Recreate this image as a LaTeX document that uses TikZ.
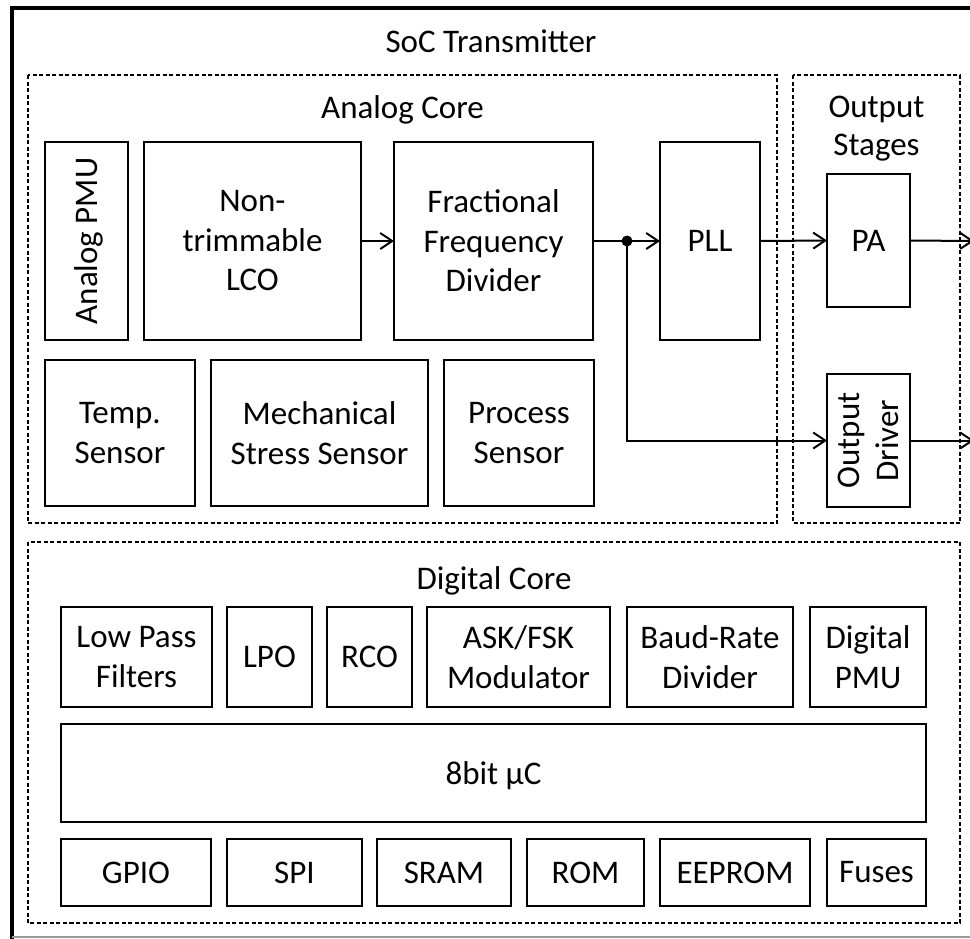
\documentclass[tikz,border=0pt]{standalone}
\usepackage{fontspec}
\setmainfont{Carlito}
\usetikzlibrary{arrows.meta}

% \blkbox{name}{x1}{y1}{x2}{y2}{text}: a solid block spanning the given corners
\newcommand{\blkbox}[6]{%
  \node[blk, minimum width={(#4-#2)*1pt}, minimum height={(#5-#3)*1pt}]
    (#1) at ({(#2+#4)/2},{(#3+#5)/2}) {#6};}

\begin{document}
\begin{tikzpicture}[x=1pt,y=-1pt,
  txt/.style={font=\fontsize{33}{39.5}\selectfont},
  blk/.style={txt, draw, line width=2pt, inner sep=0pt, outer sep=0pt, align=center},
  grp/.style={draw, line width=2pt, dash pattern=on 4pt off 2.5pt},
  ttl/.style={txt, anchor=base, inner sep=0pt},
  arr/.style={line width=2pt, -{Straight Barb[length=12pt,width=16pt]}},
  dot/.style={circle, fill, inner sep=0pt, minimum size=11pt}]

\useasboundingbox (0,0) rectangle (970,938);

% outer frame of the chip
\draw[line width=4pt] (12,940) -- (12,8) -- (980,8);
\draw[black!40, line width=1.5pt] (12,937) -- (970,937);
\node[ttl] (soc) at (491,52) {SoC Transmitter};

% group outlines
\draw[grp] (28,75) rectangle (777,523);
\draw[grp] (793,75) rectangle (960,523);
\draw[grp] (28,542) rectangle (960,923);
\node[ttl] (analogttl) at (402.5,118) {Analog Core};
\node[ttl] (outttlA) at (876.5,117) {Output};
\node[ttl] (outttlB) at (876.5,155) {Stages};
\node[ttl] (digttl) at (494,589) {Digital Core};

% analog core
\node[blk, rotate=90, minimum width=198pt, minimum height=83pt, text depth=0pt]
  (pmu) at (86.5,241) {Analog PMU};
\blkbox{lco}{144}{142}{361}{340}{Non-\\trimmable\\LCO}
\blkbox{ffd}{394}{142}{593}{340}{Fractional\\Frequency\\Divider}
\blkbox{pll}{660}{142}{760}{340}{PLL}
\blkbox{temp}{45}{360}{195}{506}{Temp.\\Sensor}
\blkbox{mech}{211}{360}{428}{506}{Mechanical\\Stress Sensor}
\blkbox{proc}{444}{360}{594}{506}{Process\\Sensor}

% output stages (the rotated driver has its north side facing west)
\blkbox{pa}{827}{174}{910}{307}{PA}
\node[blk, rotate=90, minimum width=133pt, minimum height=83pt]
  (od) at (868.5,440.5) {Output\\Driver};

% digital core
\blkbox{lpf}{61}{607}{212}{707}{Low Pass\\Filters}
\blkbox{lpo}{227}{607}{312}{707}{LPO}
\blkbox{rco}{327}{607}{412}{707}{RCO}
\blkbox{ask}{427}{607}{610}{707}{ASK/FSK\\Modulator}
\blkbox{baud}{627}{607}{793}{707}{Baud-Rate\\Divider}
\blkbox{dpmu}{810}{607}{926}{707}{Digital\\PMU}
\node[blk, minimum width=865pt, minimum height=98pt, text depth=0pt]
  (uc) at (493.5,773) {8bit µC};
\blkbox{gpio}{61}{839}{211}{906}{GPIO}
\blkbox{spi}{227}{839}{362}{906}{SPI}
\blkbox{sram}{377}{839}{511}{906}{SRAM}
\blkbox{rom}{527}{839}{644}{906}{ROM}
\blkbox{eeprom}{660}{839}{810}{906}{EEPROM}
\blkbox{fuses}{827}{839}{926}{906}{Fuses}

% signal path
\coordinate (j) at (627,241);
\coordinate (paout) at (974,241);
\coordinate (odout) at (974,440.5);
\draw[arr] (lco.east |- 0,241) -- (ffd.west |- 0,241);
\draw[arr] (ffd.east |- 0,241) -- (pll.west);
\draw[arr] (j) |- (od.north);
\node[dot] (jdot) at (j) {};
\draw[arr] (pll.east) -- (pa.west);
\draw[arr] (pa.east) -- (paout);
\draw[arr] (od.south) -- (odout);
\end{tikzpicture}
\end{document}
